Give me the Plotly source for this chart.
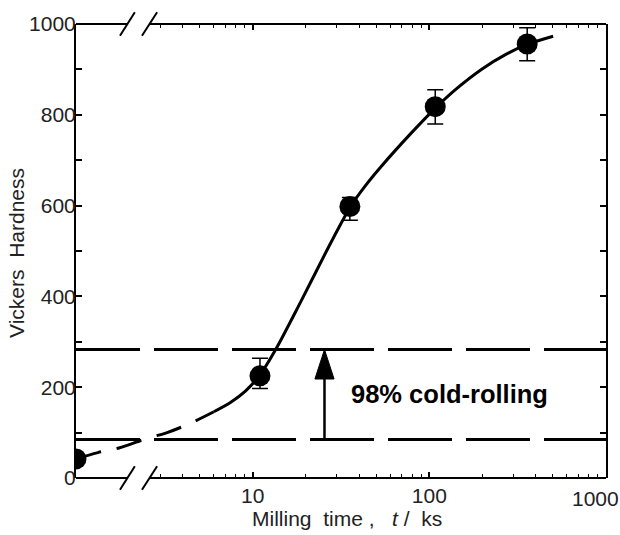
import plotly.graph_objects as go

# ---------------- data ----------------
milling_time_ks = [0, 11, 35.5, 108, 358]          # 0 = as-received (plotted at left of axis break)
hardness_hv = [42, 225, 598, 818, 956]
err_plus = [0, 39, 20, 37, 36]
err_minus = [0, 28, 30, 38, 37]

# guide curve (dashed part, then solid part)
curve_dash_t = [1.0, 1.33, 1.75, 2.55, 3.22, 4.29, 6.03]
curve_dash_hv = [42, 56, 66, 88, 99, 118, 146]
curve_solid_t = [6.03, 7.52, 9.13, 10.9, 13.5, 18.7, 25.8, 30.6, 35.8, 43.5, 52.8, 78.2,
                 109.6, 140, 199, 268, 358, 502]
curve_solid_hv = [146, 167, 192, 225, 283, 388, 495, 550, 598, 644, 684, 758,
                  817, 855, 901, 932, 955, 973]

# cold-rolling reference levels
cold_rolling_levels = [85, 283]
cold_rolling_label = "98% cold-rolling"
arrow_t = 25.5

x_major_ticks = [10, 100, 1000]
x_major_labels = ["10", "100", ""]
x_minor_ticks = [3, 4, 5, 6, 7, 8, 9, 20, 30, 40, 50, 60, 70, 80, 90,
                 200, 300, 400, 500, 600, 700, 800, 900]
ZERO_POS = 1.0   # where t = 0 is drawn (left of the axis break)

FONT = "Liberation Sans, Arial, Helvetica, sans-serif"

x_plot = [t if t > 0 else ZERO_POS for t in milling_time_ks]

fig = go.Figure()

# reference dashed lines
for lvl in cold_rolling_levels:
    fig.add_trace(go.Scatter(x=[ZERO_POS, 1000], y=[lvl, lvl], mode="lines",
                             line=dict(color="black", width=3, dash="64px,14px"),
                             showlegend=False, hoverinfo="skip"))

# guide curve
fig.add_trace(go.Scatter(x=curve_dash_t, y=curve_dash_hv, mode="lines",
                         line=dict(color="black", width=3, dash="26px,16px", shape="spline"),
                         showlegend=False, hoverinfo="skip"))
fig.add_trace(go.Scatter(x=curve_solid_t, y=curve_solid_hv, mode="lines",
                         line=dict(color="black", width=3, shape="spline", smoothing=0.8),
                         showlegend=False, hoverinfo="skip"))

# arrow
fig.add_trace(go.Scatter(x=[arrow_t, arrow_t], y=cold_rolling_levels, mode="lines+markers",
                         line=dict(color="black", width=2.5),
                         marker=dict(symbol="arrow", angleref="previous", size=[0, 31],
                                     color="black", opacity=1,
                                     line=dict(color="black", width=1)),
                         showlegend=False, hoverinfo="skip"))

# data points
fig.add_trace(go.Scatter(x=x_plot, y=hardness_hv, mode="markers",
                         marker=dict(color="black", size=21),
                         error_y=dict(type="data", symmetric=False, array=err_plus,
                                      arrayminus=err_minus, color="black",
                                      thickness=1.5, width=8),
                         showlegend=False))

# frame with axis break
brk0, brk1 = 0.098, 0.1396
shapes = []
for y in (0, 1):
    shapes.append(dict(type="line", xref="paper", yref="paper", x0=0, x1=brk0, y0=y, y1=y,
                       line=dict(color="black", width=2)))
    shapes.append(dict(type="line", xref="paper", yref="paper", x0=brk1, x1=1, y0=y, y1=y,
                       line=dict(color="black", width=2)))
    for xa, xb in ((0.083, 0.111), (0.1245, 0.153)):
        shapes.append(dict(type="line", xref="paper", yref="paper", x0=xa, x1=xb,
                           y0=y - 0.026, y1=y + 0.026,
                           line=dict(color="black", width=2)))

annotations = [
    dict(text=cold_rolling_label, xref="paper", yref="paper", x=0.515, y=0.1845,
         xanchor="left", yanchor="middle", showarrow=False,
         font=dict(family=FONT, size=25.5, color="black", weight="bold")),
    dict(text="1000", xref="paper", yref="paper", x=0.981, y=-0.045,
         xanchor="center", yanchor="middle", showarrow=False,
         font=dict(family=FONT, size=21, color="#222")),
    dict(text="Vickers  Hardness", xref="paper", yref="paper", x=-0.111, y=0.496,
         xanchor="center", yanchor="middle", textangle=-90, showarrow=False,
         font=dict(family=FONT, size=21, color="#222")),
    dict(text="Milling  time ,   <i>t</i> /  ks", xref="paper", yref="paper", x=0.511, y=-0.09,
         xanchor="center", yanchor="middle", showarrow=False,
         font=dict(family=FONT, size=21, color="#222")),
]

fig.update_layout(
    width=620, height=535,
    margin=dict(l=76, r=14, t=12, b=57),
    paper_bgcolor="white", plot_bgcolor="white",
    font=dict(family=FONT, size=21, color="#222"),
    shapes=shapes, annotations=annotations,
    xaxis=dict(type="log", range=[0, 3], showline=False, showgrid=False, zeroline=False,
               mirror="ticks", ticks="inside", tickvals=x_major_ticks, ticktext=x_major_labels,
               ticklen=6, tickwidth=1.5, tickcolor="black", ticklabelstandoff=3,
               minor=dict(tickvals=x_minor_ticks, ticks="inside", ticklen=4,
                          tickwidth=1.2, tickcolor="black"),
               tickfont=dict(size=21)),
    yaxis=dict(range=[0, 1000], showline=True, linewidth=2, linecolor="black",
               mirror="ticks", showgrid=False, zeroline=False,
               ticks="inside", dtick=200, ticklen=6, tickwidth=1.5, tickcolor="black",
               ticklabelstandoff=-6,
               minor=dict(dtick=100, ticks="inside", ticklen=6, tickwidth=1.5,
                          tickcolor="black"),
               tickfont=dict(size=21)),
)

fig.write_html("out.html")
